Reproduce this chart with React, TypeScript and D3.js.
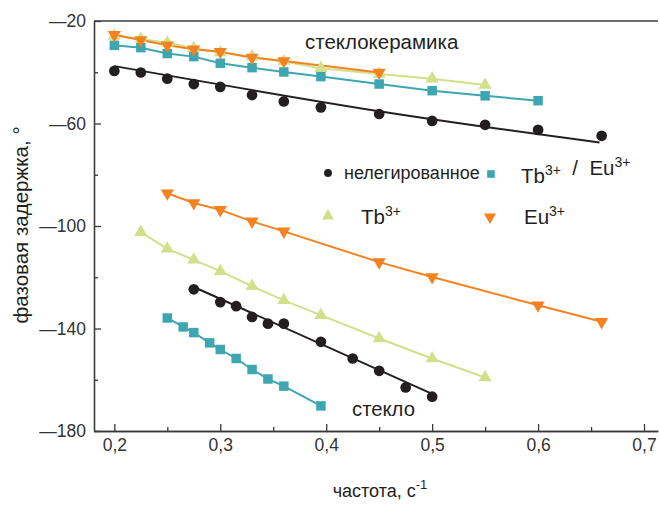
import React, { useEffect, useRef } from "react";
import * as d3 from "d3";

// стеклокерамика (upper group)
const ceramicUndopedFreq = [0.2, 0.225, 0.25, 0.275, 0.3, 0.33, 0.36, 0.395, 0.45, 0.5, 0.55, 0.6, 0.66];
const ceramicUndopedPhase = [-39.5, -40.1, -42.5, -44.6, -45.7, -48.9, -51.4, -53.7, -56.3, -59.0, -60.5, -62.5, -64.8];
const ceramicUndopedFitFreq = [0.2, 0.45, 0.658];
const ceramicUndopedFitPhase = [-37.6, -55.2, -67.4];

const ceramicTbEuFreq = [0.2, 0.225, 0.25, 0.275, 0.3, 0.33, 0.36, 0.395, 0.45, 0.5, 0.55, 0.6];
const ceramicTbEuPhase = [-29.5, -30.4, -32.7, -33.9, -36.5, -38.2, -39.9, -41.7, -44.6, -47.2, -49.2, -51.1];

const ceramicTbFreq = [0.2, 0.225, 0.25, 0.275, 0.3, 0.33, 0.36, 0.395, 0.45, 0.5, 0.55];
const ceramicTbPhase = [-25.8, -27.0, -28.5, -30.6, -32.3, -33.9, -35.8, -38.4, -40.7, -42.5, -45.0];

const ceramicEuFreq = [0.2, 0.225, 0.25, 0.275, 0.3, 0.33, 0.36, 0.45];
const ceramicEuPhase = [-25.4, -27.4, -29.5, -31.0, -32.0, -34.3, -35.6, -40.1];

// стекло (lower group)
const glassUndopedFreq = [0.275, 0.3, 0.315, 0.33, 0.345, 0.36, 0.395, 0.425, 0.45, 0.475, 0.5];
const glassUndopedPhase = [-124.7, -129.7, -131.3, -135.5, -138.1, -138.1, -145.2, -151.7, -156.5, -163.0, -166.6];
const glassUndopedFitFreq = [0.275, 0.5];
const glassUndopedFitPhase = [-123.8, -165.5];

const glassTbEuFreq = [0.25, 0.265, 0.275, 0.29, 0.3, 0.315, 0.33, 0.345, 0.36, 0.395];
const glassTbEuPhase = [-135.9, -139.4, -141.6, -145.6, -148.2, -151.7, -156.0, -159.7, -162.5, -170.2];

const glassTbFreq = [0.225, 0.25, 0.275, 0.3, 0.33, 0.36, 0.395, 0.45, 0.5, 0.55];
const glassTbPhase = [-102.4, -108.9, -113.2, -117.6, -123.5, -129.0, -134.8, -143.9, -151.7, -159.1];

const glassEuFreq = [0.25, 0.275, 0.3, 0.33, 0.36, 0.45, 0.5, 0.6, 0.66];
const glassEuPhase = [-87.2, -91.0, -93.7, -98.2, -102.1, -114.1, -119.9, -130.9, -137.4];

const xMajorTicks = [0.2, 0.3, 0.4, 0.5, 0.6, 0.7];
const xMinorTicks = [0.25, 0.35, 0.45, 0.55, 0.65];
const yMajorTicks = [-20, -60, -100, -140, -180];
const yMinorTicks = [-40, -80, -120, -160];

const BLACK = "#231f20";
const TEAL = "#3ea6b0";
const GREEN = "#d3e08b";
const ORANGE = "#f58220";
const TEXT = "#231f20";
const FONT = "'Liberation Sans', Arial, sans-serif";

const zip = (xs: number[], ys: number[]) => xs.map((v, i) => [v, ys[i]] as [number, number]);

export default function App() {
  const ref = useRef<SVGSVGElement>(null);

  useEffect(() => {
    const svg = d3.select(ref.current);
    svg.selectAll("*").remove();

    const x = d3.scaleLinear().domain([0.1808, 0.7132]).range([94, 658]);
    const y = d3.scaleLinear().domain([-180, -20]).range([431, 21]);

    const fmtX = (d: any) => String(d).replace(".", ",");
    // the source uses a long dash for the minus sign
    const fmtY = (d: any) => String(d).replace("-", "\u2014");

    // axes, ticks pointing inward
    const xAxis = svg.append("g").attr("transform", "translate(0,431)")
      .call(d3.axisBottom(x).tickValues(xMajorTicks).tickSizeInner(-7).tickSizeOuter(0).tickPadding(8).tickFormat(fmtX));
    svg.append("g").attr("transform", "translate(0,431)")
      .call(d3.axisBottom(x).tickValues(xMinorTicks).tickSizeInner(-4).tickSizeOuter(0).tickFormat(() => ""));
    const yAxis = svg.append("g").attr("transform", "translate(94,0)")
      .call(d3.axisLeft(y).tickValues(yMajorTicks).tickSizeInner(-7).tickSizeOuter(0).tickPadding(8).tickFormat(fmtY));
    svg.append("g").attr("transform", "translate(94,0)")
      .call(d3.axisLeft(y).tickValues(yMinorTicks).tickSizeInner(-4).tickSizeOuter(0).tickFormat(() => ""));

    svg.selectAll(".domain, .tick line").attr("stroke", "#3a3a3a").attr("stroke-width", 1.3);
    svg.selectAll(".tick text").attr("fill", "#333").style("font-family", FONT).style("font-size", "17.5px");
    xAxis.selectAll(".domain").attr("d", "M94,0.5H658");
    yAxis.selectAll(".domain").attr("d", "M0.5,21V431");

    svg.append("line").attr("x1", 94).attr("x2", 658).attr("y1", 21).attr("y2", 21)
      .attr("stroke", "#3a3a3a").attr("stroke-width", 1.3);

    const line = d3.line<[number, number]>().x(d => x(d[0])).y(d => y(d[1]));
    const fitLine = d3.line<[number, number]>().x(d => x(d[0])).y(d => y(d[1])).curve(d3.curveNatural);

    const series = [
      { pts: zip(ceramicTbEuFreq, ceramicTbEuPhase), color: TEAL, sym: "square" },
      { pts: zip(ceramicTbFreq, ceramicTbPhase), color: GREEN, sym: "up" },
      { pts: zip(ceramicEuFreq, ceramicEuPhase), color: ORANGE, sym: "down" },
      { pts: zip(ceramicUndopedFreq, ceramicUndopedPhase), color: BLACK, sym: "circle", fit: zip(ceramicUndopedFitFreq, ceramicUndopedFitPhase) },
      { pts: zip(glassEuFreq, glassEuPhase), color: ORANGE, sym: "down" },
      { pts: zip(glassTbFreq, glassTbPhase), color: GREEN, sym: "up" },
      { pts: zip(glassUndopedFreq, glassUndopedPhase), color: BLACK, sym: "circle", fit: zip(glassUndopedFitFreq, glassUndopedFitPhase) },
      { pts: zip(glassTbEuFreq, glassTbEuPhase), color: TEAL, sym: "square" },
    ];

    const symbolPath = (sym: string, scale = 1) => {
      if (sym === "circle") return d3.symbol().type(d3.symbolCircle).size(90 * scale)()!;
      if (sym === "square") return d3.symbol().type(d3.symbolSquare).size(90 * scale)()!;
      return d3.symbol().type(d3.symbolTriangle).size(75 * scale)()!;
    };

    series.forEach(s => {
      svg.append("path")
        .attr("d", s.fit ? fitLine(s.fit) : line(s.pts))
        .attr("fill", "none").attr("stroke", s.color).attr("stroke-width", 2);
    });
    series.forEach(s => {
      svg.append("g").selectAll("path").data(s.pts).enter().append("path")
        .attr("d", symbolPath(s.sym))
        .attr("transform", d => `translate(${x(d[0])},${y(d[1])})${s.sym === "down" ? " rotate(180)" : ""}`)
        .attr("fill", s.color);
    });

    const txt = (tx: number, ty: number, size: number) =>
      svg.append("text").attr("x", tx).attr("y", ty).attr("fill", TEXT)
        .style("font-family", FONT).style("font-size", size + "px");

    txt(305, 49, 20.5).text("стеклокерамика");
    txt(352, 416, 20.3).text("стекло");

    // legend
    svg.append("path").attr("d", symbolPath("circle", 0.55)).attr("transform", "translate(328,173)").attr("fill", BLACK);
    txt(344, 179, 18).text("нелегированное");
    svg.append("path").attr("d", symbolPath("square", 0.65)).attr("transform", "translate(491,174)").attr("fill", TEAL);

    const ion = (tx: number, ty: number, parts: [string, string][]) => {
      const t = txt(tx, ty, 20.5).style("white-space", "pre");
      parts.forEach(([base, sup]) => {
        t.append("tspan").text(base);
        if (sup) {
          t.append("tspan").attr("dy", -8).style("font-size", "14px").text(sup);
          t.append("tspan").attr("dy", 8).text("");
        }
      });
    };
    ion(521, 183, [["Tb", "3+"], ["  /  Eu", "3+"]]);

    svg.append("path").attr("d", symbolPath("up", 0.85)).attr("transform", "translate(328,216)").attr("fill", GREEN);
    ion(361, 224, [["Tb", "3+"]]);
    svg.append("path").attr("d", symbolPath("down", 0.85)).attr("transform", "translate(490,217) rotate(180)").attr("fill", ORANGE);
    ion(524, 224, [["Eu", "3+"]]);

    // axis titles
    svg.append("text").attr("transform", "translate(28,225) rotate(-90)").attr("text-anchor", "middle")
      .attr("fill", TEXT).style("font-family", FONT).style("font-size", "20.5px")
      .text("фазовая задержка, °");

    const xt = svg.append("text").attr("x", 380).attr("y", 497).attr("text-anchor", "middle")
      .attr("fill", TEXT).style("font-family", FONT).style("font-size", "18px");
    xt.append("tspan").text("частота, с");
    xt.append("tspan").attr("dy", -8).style("font-size", "13px").text("-1");
  }, []);

  return (
    <svg ref={ref} width={660} height={520}
      style={{ position: "absolute", left: 0, top: 0, background: "#fff" }} />
  );
}
